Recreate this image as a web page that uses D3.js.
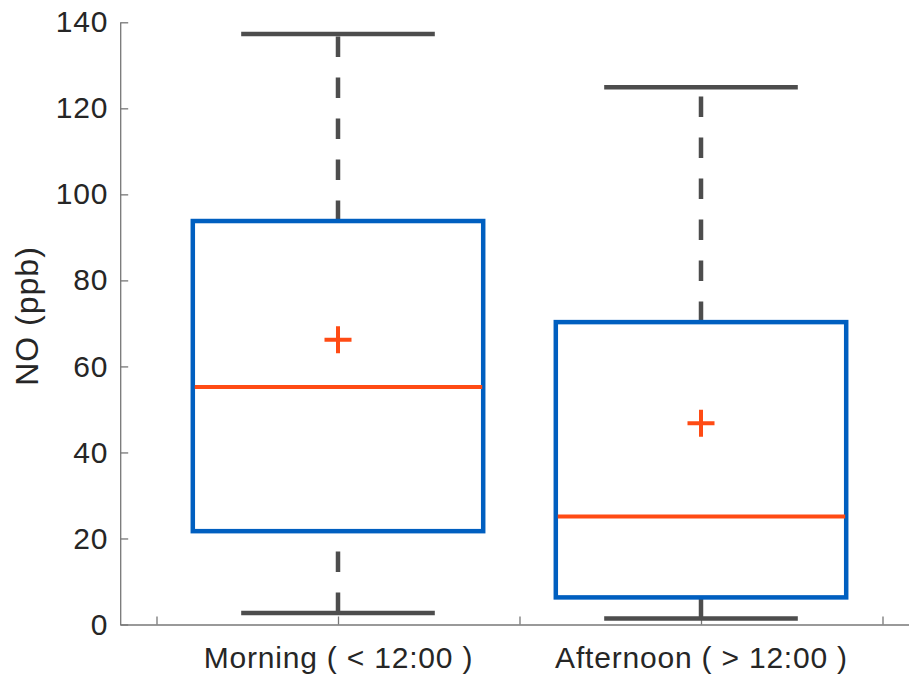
<!DOCTYPE html>
<html>
<head>
<meta charset="utf-8">
<script src="https://cdn.jsdelivr.net/npm/d3@7"></script>
<style>
  html, body { margin: 0; padding: 0; background: #fff; }
  svg { display: block; }
</style>
</head>
<body>
<svg id="chart" width="909" height="677"></svg>
<script>
const categories = ["Morning ( < 12:00 )", "Afternoon ( > 12:00 )"];
const lowerWhisker = [2.7, 1.4];
const q1 = [21.7, 6.3];
const median = [55.2, 25.1];
const q3 = [93.8, 70.3];
const upperWhisker = [137.3, 124.9];
const mean = [66.2, 46.8];
const yTicks = [0, 20, 40, 60, 80, 100, 120, 140];
const xTickPositions = [0.5, 1, 1.5, 2, 2.5];
const yLabel = "NO (ppb)";

const svg = d3.select("#chart");
const font = "'Liberation Sans', Arial, Helvetica, sans-serif";
const textColor = "#262626";
const axisColor = "#777777";
const boxColor = "#005fc0";
const medColor = "#ff4b14";
const whiskColor = "#4d4d4d";

const y = d3.scaleLinear().domain([0, 140]).range([624.5, 22.3]);
const x = d3.scaleLinear().domain([0.4, 2.6]).range([120.2, 918.8]);

// Y axis
const yAxis = d3.axisLeft(y).tickValues(yTicks).tickSize(-8).tickPadding(12).tickSizeOuter(0);
const gy = svg.append("g").attr("transform", `translate(${x(0.4)},0)`).call(yAxis);
gy.select(".domain").attr("stroke", axisColor).attr("stroke-width", 1.3);
gy.selectAll(".tick line").attr("stroke", axisColor).attr("stroke-width", 1.3);
gy.selectAll(".tick text").attr("fill", textColor).style("font-family", font)
  .style("font-size", "30px").style("letter-spacing", "0.8px");

// X axis
const xAxis = d3.axisBottom(x).tickValues(xTickPositions).tickSize(-8).tickSizeOuter(0)
  .tickPadding(22)
  .tickFormat(d => (d === 1 ? categories[0] : d === 2 ? categories[1] : ""));
const gx = svg.append("g").attr("transform", `translate(0,${y(0)})`).call(xAxis);
gx.select(".domain").attr("stroke", axisColor).attr("stroke-width", 1.3);
gx.selectAll(".tick line").attr("stroke", axisColor).attr("stroke-width", 1.3);
gx.selectAll(".tick text").attr("fill", textColor).style("font-family", font)
  .style("font-size", "30px").style("letter-spacing", "0.8px");

// Y label
svg.append("text")
  .attr("transform", `translate(38,316) rotate(-90)`)
  .attr("text-anchor", "middle")
  .attr("fill", textColor)
  .style("font-family", font).style("font-size", "32px").style("letter-spacing", "1px")
  .text(yLabel);

const boxHalf = 0.4, capHalf = 0.2667;
const data = categories.map((c, i) => ({
  pos: i + 1, lw: lowerWhisker[i], q1: q1[i], med: median[i], q3: q3[i], uw: upperWhisker[i], mean: mean[i]
}));

const g = svg.append("g");
data.forEach(d => {
  g.append("line").attr("x1", x(d.pos)).attr("x2", x(d.pos))
    .attr("y1", y(d.q3)).attr("y2", y(d.uw))
    .attr("stroke", whiskColor).attr("stroke-width", 4.5).attr("stroke-dasharray", "20.5,20.5");
  g.append("line").attr("x1", x(d.pos)).attr("x2", x(d.pos))
    .attr("y1", y(d.lw)).attr("y2", y(d.q1))
    .attr("stroke", whiskColor).attr("stroke-width", 4.5).attr("stroke-dasharray", "20.5,20.5");
  [d.lw, d.uw].forEach(v => {
    g.append("line").attr("x1", x(d.pos - capHalf)).attr("x2", x(d.pos + capHalf))
      .attr("y1", y(v)).attr("y2", y(v))
      .attr("stroke", whiskColor).attr("stroke-width", 4.5);
  });
  g.append("rect").attr("x", x(d.pos - boxHalf)).attr("y", y(d.q3))
    .attr("width", x(d.pos + boxHalf) - x(d.pos - boxHalf))
    .attr("height", y(d.q1) - y(d.q3))
    .attr("fill", "none").attr("stroke", boxColor).attr("stroke-width", 4.5);
  g.append("line").attr("x1", x(d.pos - boxHalf) + 2).attr("x2", x(d.pos + boxHalf) - 1)
    .attr("y1", y(d.med)).attr("y2", y(d.med))
    .attr("stroke", medColor).attr("stroke-width", 4);
  const cx = x(d.pos), cy = y(d.mean), s = 13.5;
  g.append("path").attr("d", `M${cx - s},${cy}H${cx + s}M${cx},${cy - s}V${cy + s}`)
    .attr("stroke", medColor).attr("stroke-width", 4).attr("fill", "none");
});
</script>
</body>
</html>
